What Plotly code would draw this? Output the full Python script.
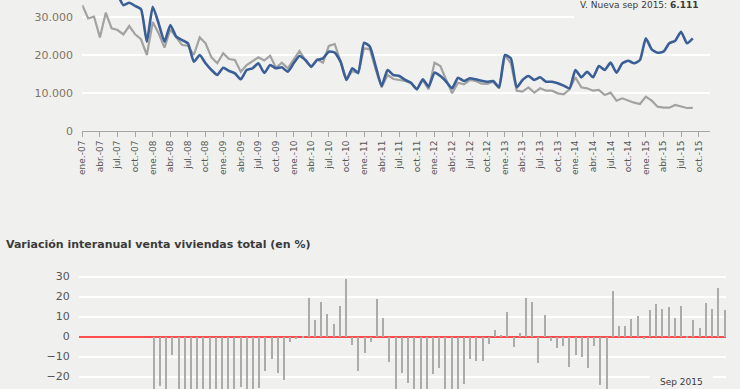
import plotly.graph_objects as go

# ---------------- data ----------------
mes = ["ene.", "feb.", "mar.", "abr.", "may.", "jun.", "jul.", "ago.", "sep.", "oct.", "nov.", "dic."]
years = list(range(2007, 2016))
months = [f"{m}-{str(y)[2:]}" for y in years for m in mes]   # ene.-07 .. dic.-15 (108)
n_data = 105  # ene.-07 .. sep.-15

serie_azul = [42000, 40000, 41000, 38500, 40500, 38000, 36000,
              33200, 33850, 33000, 32100, 23560, 32800, 28400, 23560, 27970, 24880, 24000,
              23140, 18290, 20050, 17860, 16100, 14775, 16700, 15830, 15220, 13640, 16100,
              16540, 17860, 15300, 17400, 16540, 16800, 15650, 17860, 19790, 18730, 16970,
              18730, 19170, 20930, 20670, 18290, 13460, 16540, 15390, 23300, 22250, 16970,
              11870, 16100, 14775, 14510, 13460, 12750, 11000, 13640, 11700, 15390, 14510,
              13000, 11260, 14070, 13190, 13900, 13640, 13250, 13000, 13190, 11520, 20050,
              19170, 11520, 13460, 14510, 13460, 14160, 13000, 13000, 12580, 11960, 11260,
              16100, 14160, 15650, 14160, 17150, 16100, 18030, 15390, 17860, 18550, 17860,
              18730, 24450, 21550, 20670, 20930, 23140, 23830, 26200, 23140, 24450]

serie_nueva = [33200, 29700, 30200, 24700, 31200, 27100, 26650, 25500, 27700, 25500,
               24200, 20050, 28760, 25770, 21980, 26830, 24720, 22690, 22500, 20050,
               24700, 23140, 19440, 17860, 20500, 19000, 18730, 15650, 17400, 18400,
               19440, 18600, 19870, 16700, 18030, 16540, 18900, 21100, 18730, 16970,
               18900, 18030, 22430, 22950, 18290, 13640, 15830, 15220, 21820, 21550,
               16100, 11530, 14775, 13720, 13460, 13190, 12580, 11000, 13460, 11000,
               18030, 17150, 13460, 9950, 12750, 12320, 13460, 13190, 12500, 12400,
               13000, 11260, 20050, 17860, 10640, 10380, 11520, 10110, 11260, 10640,
               10640, 9940, 9680, 11000, 14160, 11520, 11260, 10640, 10820, 9500,
               10110, 8000, 8620, 8000, 7470, 7120, 9060, 8000, 6420, 6160,
               6160, 6860, 6510, 6070, 6111]

# interannual variation (%) from ene.-08 to sep.-15
variacion = [-28, -24.6, -29, -8.9, -33, -38, -36, -42, -45, -40, -44, -37,
             -35, -30, -25, -32, -28, -25.6, -17.2, -10.9, -17.9, -21.6, -2.6, -0.8,
             0.3, 19.6, 8.7, 17.7, 11.7, 6.4, 15.7, 29.2, -4.2, -17.2, -8.2, -2.6,
             19.1, 9.4, -12.6, -30, -18.2, -23.1, -28, -33, -27, -18.7, -15.4, -30,
             -34, -28, -23.6, -11.2, -12.2, -12.1, -3.7, 3.6, 1.2, 12.7, -5.2, 2.1,
             19.6, 17.7, -12.9, 11.2, -2.2, -5.6, -4.6, -14.8, -9.1, -9.9, -15.4, -4.6,
             -23.9, -29, 22.9, 5.4, 5.4, 8.9, 10.7, -0.6, 13.7, 16.7, 14.2, 15.2,
             9.4, 15.7, 0.6, 8.7, 4.6, 17.2, 14.2, 24.4, 13.7]

top_yticks = [0, 10000, 20000, 30000]
top_yticktext = ["0", "10.000", "20.000", "30.000"]
bot_yticks = [-20, -10, 0, 10, 20, 30]
titulo = "Variación interanual venta viviendas total (en %)"
nota_top = "V. Nueva sep 2015: <b>6.111</b>"
nota_bot = "Sep 2015"

# ---------------- figure ----------------
W, H = 740, 389
BG = "#f0f1ef"
FONT = "DejaVu Sans"

def px_x(p):
    return p / W

def px_y(p):
    return (H - p) / H

fig = go.Figure()

x_months = months[:n_data]
fig.add_trace(go.Scatter(x=x_months, y=serie_nueva, mode="lines",
                         line=dict(color="#a2a2a2", width=2.2),
                         xaxis="x", yaxis="y", showlegend=False))
fig.add_trace(go.Scatter(x=x_months, y=serie_azul, mode="lines",
                         line=dict(color="#3a5e96", width=2.6, shape="spline", smoothing=0.5),
                         xaxis="x", yaxis="y", showlegend=False))

fig.add_trace(go.Bar(x=months[12:n_data], y=variacion, width=0.24,
                     marker=dict(color="#ababab", line=dict(width=0)),
                     xaxis="x2", yaxis="y2", showlegend=False))

fig.update_layout(
    width=W, height=H,
    margin=dict(l=0, r=0, t=0, b=0, autoexpand=False),
    paper_bgcolor=BG, plot_bgcolor=BG,
    font=dict(family=FONT, size=10, color="#555555"),
    bargap=0,
    xaxis=dict(
        domain=[px_x(82.3), px_x(710.4)],
        type="category", categoryorder="array", categoryarray=months,
        range=[0, 107], automargin=False,
        tickmode="array", tickvals=months[::3], ticktext=months[::3],
        tickangle=-90, tickfont=dict(size=9, color="#555555"),
        ticks="outside", ticklen=5, tickcolor="#a6a6a6", tickwidth=1,
        showline=True, linecolor="#a6a6a6", linewidth=1,
        showgrid=False, zeroline=False, anchor="y",
    ),
    yaxis=dict(
        domain=[px_y(131), 1],
        range=[0, 34565], automargin=False,
        tickmode="array", tickvals=top_yticks, ticktext=top_yticktext,
        tickfont=dict(size=11, color="#857363"),
        ticks="outside", ticklen=6, tickcolor=BG,
        showgrid=True, gridcolor="#ffffff", gridwidth=2,
        zeroline=False, showline=False, anchor="x",
    ),
    xaxis2=dict(
        domain=[px_x(79), px_x(726)],
        type="category", categoryorder="array", categoryarray=months,
        range=[-0.08, 104.2], automargin=False,
        showticklabels=False, ticks="", showgrid=False, zeroline=False,
        showline=False, anchor="y2",
    ),
    yaxis2=dict(
        domain=[0, px_y(272.5)],
        range=[-26.2, 32], automargin=False,
        tickmode="array", tickvals=bot_yticks,
        tickfont=dict(size=11, color="#555555"),
        ticks="outside", ticklen=6, tickcolor=BG,
        showgrid=True, gridcolor="#ffffff", gridwidth=2,
        zeroline=True, zerolinecolor="#ff4d4d", zerolinewidth=2,
        showline=False, anchor="x2",
    ),
    shapes=[
        dict(type="rect", xref="paper", yref="paper",
             x0=px_x(574), x1=px_x(712), y0=px_y(19), y1=1,
             fillcolor=BG, line=dict(width=0), layer="above"),
        dict(type="rect", xref="paper", yref="paper",
             x0=px_x(650), x1=px_x(713), y0=0, y1=px_y(370),
             fillcolor=BG, line=dict(width=0), layer="above"),
    ],
    annotations=[
        dict(text=titulo, xref="paper", yref="paper", x=px_x(4), y=px_y(244),
             xanchor="left", yanchor="middle", showarrow=False,
             font=dict(family=FONT, size=11, color="#3a3a3a", weight="bold")),
        dict(text=nota_top, xref="paper", yref="paper", x=px_x(700), y=px_y(5),
             xanchor="right", yanchor="middle", showarrow=False,
             font=dict(family=FONT, size=9, color="#3a3a3a")),
        dict(text=nota_bot, xref="paper", yref="paper", x=px_x(681), y=px_y(381.5),
             xanchor="center", yanchor="middle", showarrow=False,
             font=dict(family=FONT, size=9, color="#3a3a3a")),
    ],
)

fig.write_html("out.html",
               config={"displayModeBar": False},
               post_script="document.body.style.margin='0';document.body.style.overflow='hidden';")
